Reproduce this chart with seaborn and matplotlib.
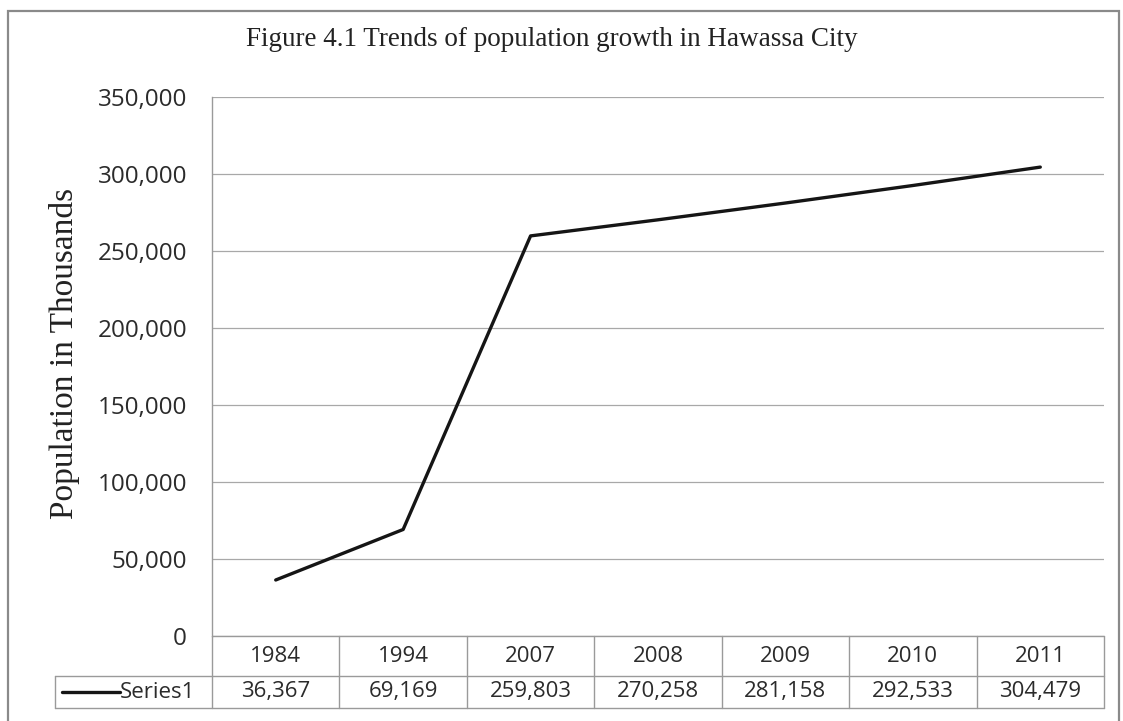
import matplotlib
matplotlib.use("Agg")
import matplotlib.pyplot as plt
import seaborn as sns
import pandas as pd
from matplotlib.lines import Line2D
from matplotlib.patches import Rectangle
from matplotlib.transforms import blended_transform_factory
from matplotlib.ticker import FuncFormatter

# ---- data ----
years = ["1984", "1994", "2007", "2008", "2009", "2010", "2011"]
population = [36367, 69169, 259803, 270258, 281158, 292533, 304479]
series_name = "Series1"
title = "Figure 4.1 Trends of population growth in Hawassa City"
ylabel = "Population in Thousands"
yticks = [0, 50000, 100000, 150000, 200000, 250000, 300000, 350000]

sns.set_theme(style="white")
plt.rcParams['font.family'] = ['Open Sans', 'DejaVu Sans']

W, H = 1123, 721
fig = plt.figure(figsize=(W / 100, H / 100), dpi=100)

def fx(px):
    return px / W

def fy(py):
    return 1 - py / H

ax_left, ax_right, ax_top, ax_bottom = 212, 1104, 97, 636
ax = fig.add_axes([fx(ax_left), fy(ax_bottom), fx(ax_right - ax_left), (ax_bottom - ax_top) / H])

df = pd.DataFrame({"pos": list(range(len(years))), "pop": population, "year": years})
sns.lineplot(data=df, x="pos", y="pop", ax=ax, color="#151515", linewidth=2.4,
             legend=False)

ax.set_xlim(-0.5, len(years) - 0.5)
ax.set_ylim(0, 350000)
ax.set_yticks(yticks)
ax.yaxis.set_major_formatter(FuncFormatter(lambda v, p: f"{int(v):,}"))
ax.set_xticks([])
ax.set_xlabel("")
ax.set_ylabel("")
ax.tick_params(axis="y", length=0, pad=18, labelsize=17.5, labelcolor="#2b2b2b")
ax.grid(axis="y", color="#a8a8a8", linewidth=0.9)
for s in ["top", "right", "bottom"]:
    ax.spines[s].set_visible(False)
ax.spines["left"].set_color("#9a9a9a")
ax.spines["left"].set_linewidth(1.0)

# y label
fig.text(fx(65), fy(353), ylabel, rotation=90, ha="center", va="center",
         fontsize=24, family=["Liberation Serif", "DejaVu Serif"], color="#222222")

# title
fig.text(fx(552), fy(40), title, ha="center", va="center",
         fontsize=19.5, family=["Liberation Serif", "DejaVu Serif"], color="#222222")

# ---- data table ----
grid_c = "#9a9a9a"
hdr_top, hdr_bot, row_bot = 636, 676, 708
leg_left = 55
n = len(years)
colw = (ax_right - ax_left) / n

def hline(x0, x1, y):
    fig.add_artist(Line2D([fx(x0), fx(x1)], [fy(y), fy(y)], color=grid_c, lw=1.0))

def vline(x, y0, y1):
    fig.add_artist(Line2D([fx(x), fx(x)], [fy(y0), fy(y1)], color=grid_c, lw=1.0))

hline(ax_left, ax_right, hdr_top)
hline(leg_left, ax_right, hdr_bot)
hline(leg_left, ax_right, row_bot)
vline(leg_left, hdr_bot, row_bot)
vline(ax_left, hdr_top, row_bot)
for i in range(1, n + 1):
    vline(ax_left + i * colw, hdr_top, row_bot)

trans = blended_transform_factory(ax.transData, fig.transFigure)
for i, (yr, val) in enumerate(zip(years, population)):
    ax.text(i, fy((hdr_top + hdr_bot) / 2), yr, transform=trans, ha="center",
            va="center", fontsize=16, color="#2b2b2b", clip_on=False)
    ax.text(i, fy((hdr_bot + row_bot) / 2), f"{val:,}", transform=trans, ha="center",
            va="center", fontsize=16, color="#2b2b2b", clip_on=False)

# legend key in table
fig.add_artist(Line2D([fx(62), fx(120)], [fy(692), fy(692)], color="#151515", lw=2.4))
fig.text(fx(120), fy(692), series_name, ha="left", va="center", fontsize=16,
         color="#2b2b2b")

# outer chart border
fig.add_artist(Rectangle((fx(8), fy(724)), fx(1119 - 8), (724 - 11) / H,
                         fill=False, edgecolor="#8a8a8a", lw=1.6))

fig.savefig("out.png", dpi=100)
